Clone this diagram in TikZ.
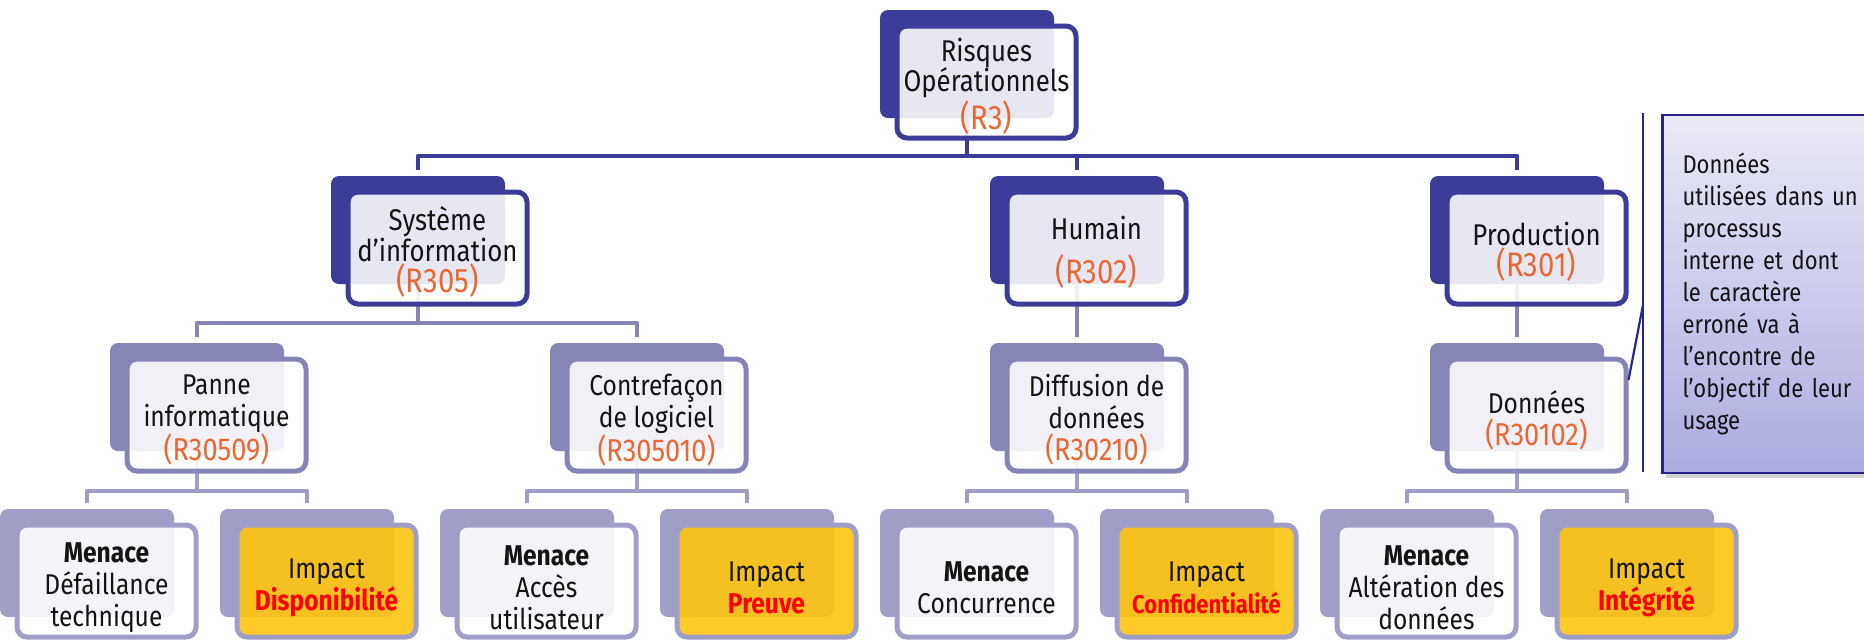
\documentclass[tikz,border=0pt]{standalone}
\usepackage{fontspec}
\setmainfont{Fira Sans}[FakeStretch=0.86]
\usetikzlibrary{calc,shadows}
\pgfdeclarelayer{links}
\pgfsetlayers{links,main}

\definecolor{indigoA}{RGB}{59,59,152}
\definecolor{lavB}{RGB}{134,134,182}
\definecolor{lavC}{RGB}{158,158,198}
\definecolor{inkblack}{RGB}{20,20,20}
\definecolor{codeorange}{RGB}{232,103,50}
\definecolor{keyred}{RGB}{255,0,0}
\definecolor{gold}{RGB}{253,197,21}
\definecolor{calltop}{RGB}{234,234,247}
\definecolor{callbot}{RGB}{172,172,224}
\definecolor{callline}{RGB}{38,38,138}

% risk codes are set a little larger than the card titles
\newcommand\codeA[1]{{\color{codeorange}\fontsize{17}{15.3}\selectfont #1}}
\newcommand\codeB[1]{{\color{codeorange}\fontsize{15.8}{16}\selectfont #1}}
\newcommand\keytxt[1]{{\bfseries\color{keyred}#1}}

% one card = a filled back plate, a framed translucent front plate and its text
\newcommand\riskcard[7]{%
  \node[backbox,#4] (#1-b) at (#2+87,#3+54) {};
  \node[frontbox,#5] (#1) at (#2+106.5,#3+72) {};
  \node[cardtext,#6] (#1-t) at (#1.center) {#7};
}

\tikzset{
  backbox/.style={rounded corners=4pt, minimum width=87pt, minimum height=54pt,
    inner sep=0pt, outer sep=0pt},
  frontbox/.style={rounded corners=5pt, line width=2.5pt, minimum width=89.5pt,
    minimum height=56pt, inner sep=0pt, fill opacity=0.88},
  cardtext/.style={inner sep=0pt, align=center, text=inkblack},
  backA/.style={fill=indigoA},
  backB/.style={fill=lavB},
  backC/.style={fill=lavC},
  frontA/.style={draw=indigoA, fill=white},
  frontB/.style={draw=lavB, fill=white},
  frontC/.style={draw=lavC, fill=white},
  frontGold/.style={draw=lavC, fill=gold, fill opacity=0.92},
  textA/.style={font=\fontsize{15}{15.3}\selectfont, yshift=-2pt},
  textB/.style={font=\fontsize{14.3}{16}\selectfont, yshift=-2.5pt},
  textC/.style={font=\fontsize{14.3}{16}\selectfont, yshift=-3.5pt},
  linkA/.style={draw=indigoA, line width=2.4pt, line join=round},
  linkB/.style={draw=lavB, line width=2.4pt, line join=round},
  linkC/.style={draw=lavC, line width=2.2pt, line join=round},
  notebox/.style={draw=callline, line width=1.2pt, top color=calltop, bottom color=callbot,
    text width=102pt, inner xsep=10pt, inner ysep=0pt, minimum height=179pt,
    align=left, text=inkblack, font=\fontsize{12.8}{16}\selectfont,
    drop shadow={shadow xshift=1.5pt, shadow yshift=-2.5pt, opacity=0.35}},
  bracket/.style={draw=callline, line width=1.1pt}
}

\begin{document}
\begin{tikzpicture}[x=0.5pt,y=-0.5pt]
\useasboundingbox (0,0) rectangle (1864,639);
\clip (0,0) rectangle (1864,639);

% level 1
\riskcard{r3}{880}{10}{backA}{frontA}{textA}{Risques\\Opérationnels\\\codeA{(R3)}}

% level 2
\riskcard{sys}{331}{176}{backA}{frontA}{textA}{Système\\d’information\\\codeA{(R305)}}
\riskcard{hum}{990}{176}{backA}{frontA}{textA}{Humain\\[6.5pt]\codeA{(R302)}}
\riskcard{prod}{1430}{176}{backA}{frontA}{textA}{Production\\\codeA{(R301)}}

% level 3
\riskcard{pan}{110}{343}{backB}{frontB}{textB}{Panne\\informatique\\\codeB{(R30509)}}
\riskcard{con}{550}{343}{backB}{frontB}{textB}{Contrefaçon\\de logiciel\\\codeB{(R305010)}}
\riskcard{dif}{990}{343}{backB}{frontB}{textB}{Diffusion de\\données\\\codeB{(R30210)}}
\riskcard{don}{1430}{343}{backB}{frontB}{textB}{Données\\\codeB{(R30102)}}

% level 4
\riskcard{m1}{0}{509}{backC}{frontC}{textC}{\textbf{Menace}\\Défaillance\\technique}
\riskcard{i1}{220}{509}{backC}{frontGold}{textC}{Impact\\\keytxt{Disponibilité}}
\riskcard{m2}{440}{509}{backC}{frontC}{textC}{\textbf{Menace}\\Accès\\utilisateur}
\riskcard{i2}{660}{509}{backC}{frontGold}{textC}{Impact\\\keytxt{Preuve}}
\riskcard{m3}{880}{509}{backC}{frontC}{textC}{\textbf{Menace}\\Concurrence}
\riskcard{i3}{1100}{509}{backC}{frontGold}{textC}{Impact\\\keytxt{\fontsize{12.8}{16}\selectfont Confidentialité}}
\riskcard{m4}{1320}{509}{backC}{frontC}{textC}{\textbf{Menace}\\Altération des\\données}
\riskcard{i4}{1540}{509}{backC}{frontGold}{textC}{Impact\\\keytxt{Intégrité}}

% tree connectors, drawn underneath the cards
\begin{pgfonlayer}{links}
  \draw[linkA] (r3-b.south) -- ++(0,38);
  \draw[linkA] ([yshift=3pt]sys-b.north) |- ([yshift=10pt]hum-b.north) -| ([yshift=3pt]prod-b.north);
  \draw[linkA] ([yshift=10pt]hum-b.north) -- ([yshift=3pt]hum-b.north);

  \draw[linkB] (sys-b.south) -- ++(0,39);
  \draw[linkB] ([yshift=3pt]pan-b.north) |- ([yshift=10pt]con-b.north) -- ([yshift=3pt]con-b.north);
  \draw[linkB] (hum-b.south) -- ([yshift=3pt]dif-b.north);
  \draw[linkB] (prod-b.south) -- ([yshift=3pt]don-b.north);

  \draw[linkC] (pan-b.south) -- ++(0,41);
  \draw[linkC] ([yshift=3pt]m1-b.north) |- ([yshift=9pt]i1-b.north) -- ([yshift=3pt]i1-b.north);
  \draw[linkC] (con-b.south) -- ++(0,41);
  \draw[linkC] ([yshift=3pt]m2-b.north) |- ([yshift=9pt]i2-b.north) -- ([yshift=3pt]i2-b.north);
  \draw[linkC] (dif-b.south) -- ++(0,41);
  \draw[linkC] ([yshift=3pt]m3-b.north) |- ([yshift=9pt]i3-b.north) -- ([yshift=3pt]i3-b.north);
  \draw[linkC] (don-b.south) -- ++(0,41);
  \draw[linkC] ([yshift=3pt]m4-b.north) |- ([yshift=9pt]i4-b.north) -- ([yshift=3pt]i4-b.north);
\end{pgfonlayer}

% explanatory note for the data risk
\node[notebox] (note) at (1784.5,294)
  {Données\\utilisées dans un\\processus\\interne et dont\\le caractère\\erroné va à\\l’encontre de\\l’objectif de leur\\usage};
\coordinate (brTop) at (1643,113);
\coordinate (brBot) at (1643,472);
\coordinate (brHook) at (1643,305);
\draw[bracket] (brTop) -- (brBot);
\draw[bracket] (brHook) -- ([yshift=17.5pt]don.east);
\end{tikzpicture}
\end{document}
